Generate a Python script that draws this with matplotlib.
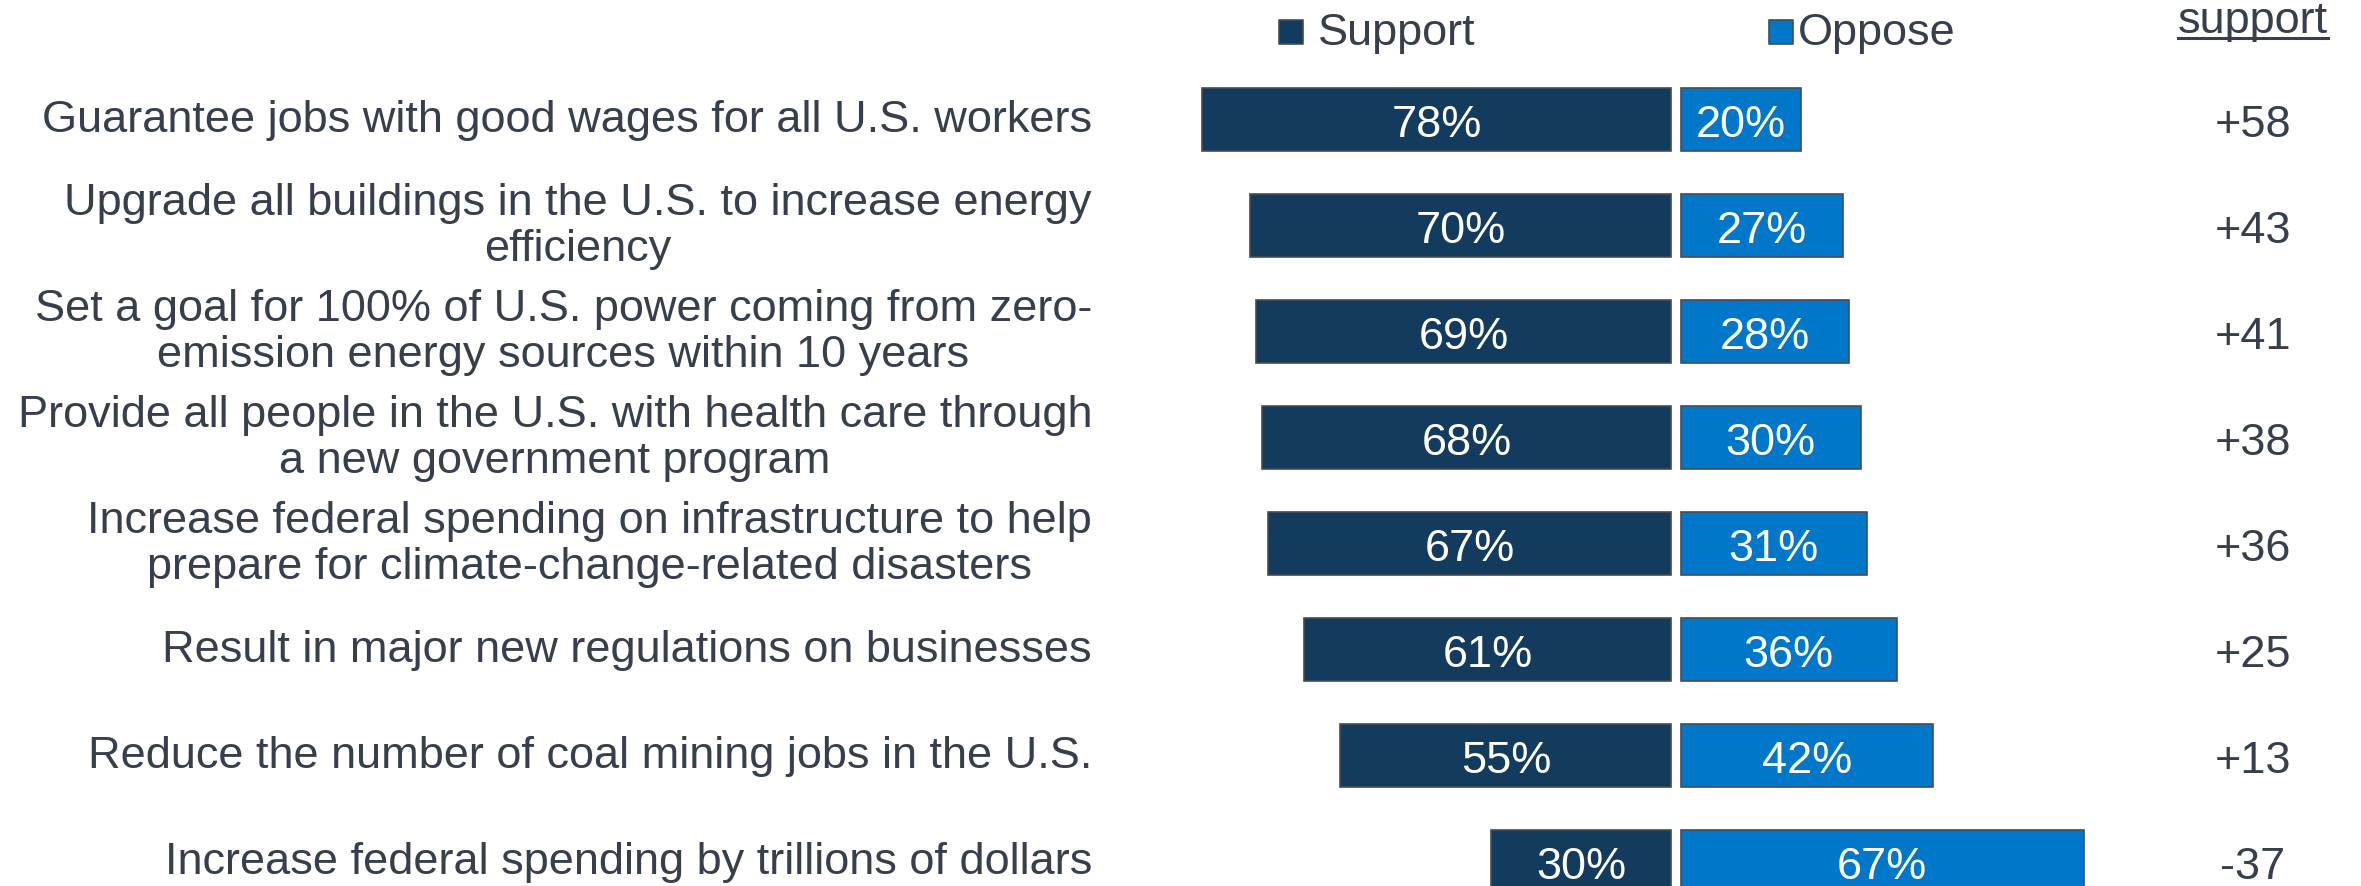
import matplotlib
matplotlib.use('Agg')
import matplotlib.pyplot as plt
from matplotlib.lines import Line2D

plt.rcParams['font.family'] = ['Liberation Sans', 'DejaVu Sans']

# data
items = [
    'Guarantee jobs with good wages for all U.S. workers',
    'Upgrade all buildings in the U.S. to increase energy\nefficiency',
    'Set a goal for 100% of U.S. power coming from zero-\nemission energy sources within 10 years',
    'Provide all people in the U.S. with health care through\na new government program',
    'Increase federal spending on infrastructure to help\nprepare for climate-change-related disasters',
    'Result in major new regulations on businesses',
    'Reduce the number of coal mining jobs in the U.S.',
    'Increase federal spending by trillions of dollars',
]
support = [78, 70, 69, 68, 67, 61, 55, 30]
oppose = [20, 27, 28, 30, 31, 36, 42, 67]
series = ['Support', 'Oppose']
net_header = 'support'

# style
DARK = '#133b5e'
BLUE = '#0077c8'
EDGE = '#474d56'
TXT = '#363f4b'
FS = 32.5
GAP = 0.75

W, H = 2361, 887
fig = plt.figure(figsize=(W / 100, H / 100), dpi=100)
fig.set_facecolor('white')
ax = fig.add_axes([0, 0, 1, 1])
ax.axis('off')

# pixel layout -> data scale (6.02 px per percent, 106 px per row)
x0, xs = 1676, 6.02
y0, ys = 120.5, 106
ax.set_xlim(-x0 / xs, (W - x0) / xs)
ax.set_ylim((H - y0) / ys, -y0 / ys)

rows = list(range(len(items)))
ax.barh(rows, [-s for s in support], left=-GAP, height=0.6,
        color=DARK, edgecolor=EDGE, linewidth=1.2)
ax.barh(rows, oppose, left=GAP, height=0.6,
        color=BLUE, edgecolor=EDGE, linewidth=1.2)

label_x = (1092 - x0) / xs
net_x = (2253 - x0) / xs
dy = 0.05  # digits sit centred on the bar
for i, (lab, s, o) in enumerate(zip(items, support, oppose)):
    ax.text(label_x, i, lab, ha='right', va='center', multialignment='center',
            fontsize=FS, color=TXT, linespacing=1.15)
    ax.text(-GAP - s / 2, i + dy, f'{s}%', ha='center', va='center',
            fontsize=FS, color='white')
    ax.text(GAP + o / 2, i + dy, f'{o}%', ha='center', va='center',
            fontsize=FS, color='white')
    ax.text(net_x, i + dy, f'{s - o:+d}', ha='center', va='center',
            fontsize=FS, color=TXT)

# legend drawn by hand
leg_y = (33 - y0) / ys
leg_base = (45 - y0) / ys
for px, tx, name, col in [(1291, 1318, series[0], DARK), (1781, 1798, series[1], BLUE)]:
    ax.scatter([(px - x0) / xs], [leg_y], marker='s', s=300,
               color=col, edgecolor=EDGE, linewidth=1.2, clip_on=False)
    ax.text((tx - x0) / xs, leg_base, name, ha='left', va='baseline',
            fontsize=FS, color=TXT)

# underlined header, top line cut off like the source
hbase = (33 - y0) / ys
hdr = ax.text(net_x, hbase, net_header, ha='center', va='baseline',
              fontsize=FS, color=TXT)
fig.canvas.draw()
bb = hdr.get_window_extent()
uy = ax.transData.transform((0, hbase))[1] - 6
fig.add_artist(Line2D([bb.x0 / W, bb.x1 / W], [uy / H, uy / H],
                      color=TXT, linewidth=2.2))

fig.savefig('out.png', dpi=100, facecolor='white')
